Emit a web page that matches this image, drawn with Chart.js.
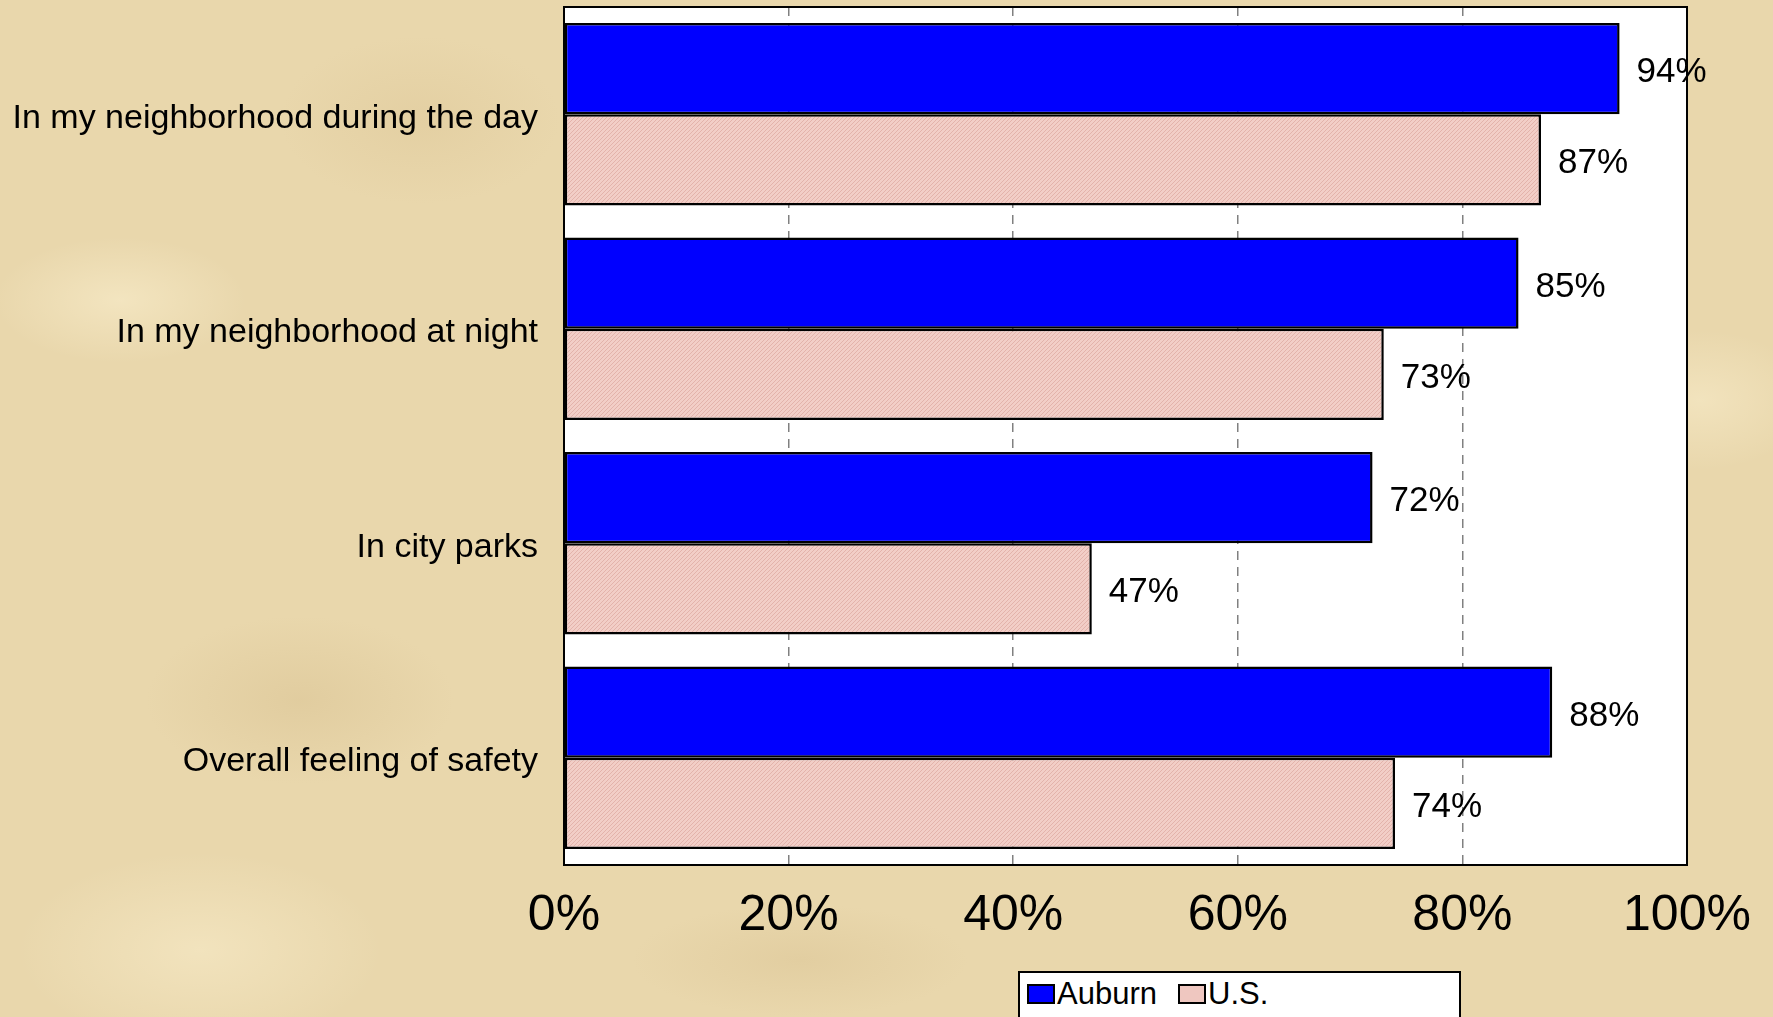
<!DOCTYPE html>
<html>
<head>
<meta charset="utf-8">
<script src="https://cdn.jsdelivr.net/npm/chart.js@4.4.0/dist/chart.umd.min.js"></script>
<style>
  html, body { margin: 0; padding: 0; }
  body {
    width: 1773px; height: 1017px; overflow: hidden; position: relative;
    background-color: #E9D7AC;
    background-image:
      radial-gradient(ellipse 180px 90px at 120px 300px, rgba(255,245,215,0.45), rgba(255,245,215,0) 70%),
      radial-gradient(ellipse 220px 120px at 300px 700px, rgba(210,185,135,0.35), rgba(210,185,135,0) 70%),
      radial-gradient(ellipse 160px 100px at 1700px 400px, rgba(255,245,215,0.4), rgba(255,245,215,0) 70%),
      radial-gradient(ellipse 240px 80px at 800px 960px, rgba(210,185,135,0.3), rgba(210,185,135,0) 70%),
      radial-gradient(ellipse 200px 120px at 420px 120px, rgba(215,190,140,0.3), rgba(215,190,140,0) 70%),
      radial-gradient(ellipse 260px 140px at 200px 950px, rgba(255,245,215,0.4), rgba(255,245,215,0) 70%);
    font-family: "Liberation Sans", Arial, sans-serif;
  }
  #wrap { position: absolute; left: 0; top: 0; width: 1773px; height: 1017px; }
  #legend {
    position: absolute; left: 1018px; top: 971px; width: 443px; height: 60px;
    background: #fff; border: 2px solid #000; box-sizing: border-box;
    font-size: 31px; line-height: 31px; color: #000; white-space: nowrap;
  }
  .item { position: absolute; top: 5px; display: flex; align-items: center; }
  .sw { width: 28px; height: 20px; border: 2px solid #000; box-sizing: border-box; margin-right: 2px; }
</style>
</head>
<body>
<div id="wrap"><canvas id="c" width="1773" height="1017"></canvas></div>
<div id="legend">
  <div class="item" style="left:7px"><span class="sw" style="background:#0000FF"></span><span id="l0"></span></div>
  <div class="item" style="left:158px"><span class="sw" style="background:#EFC7C0"></span><span id="l1"></span></div>
</div>
<script>
const categories = ["In my neighborhood during the day", "In my neighborhood at night", "In city parks", "Overall feeling of safety"];
const seriesNames = ["Auburn", "U.S."];
const auburnValues = [94, 85, 72, 88];
const usValues = [87, 73, 47, 74];
const xTicks = [0, 20, 40, 60, 80, 100];

document.getElementById('l0').textContent = seriesNames[0];
document.getElementById('l1').textContent = seriesNames[1];

function makePattern() {
  const p = document.createElement('canvas');
  p.width = 4; p.height = 4;
  const g = p.getContext('2d');
  g.fillStyle = '#F2CEC7';
  g.fillRect(0, 0, 4, 4);
  g.fillStyle = '#E3B3AB';
  for (let i = 0; i < 4; i++) g.fillRect(i, 3 - i, 1, 1);
  return document.getElementById('c').getContext('2d').createPattern(p, 'repeat');
}

const plotBg = {
  id: 'plotBg',
  beforeDraw(chart) {
    const {ctx, chartArea: a} = chart;
    ctx.save();
    ctx.fillStyle = '#FFFFFF';
    ctx.fillRect(a.left, a.top, a.right - a.left, a.bottom - a.top);
    ctx.restore();
  },
  afterDraw(chart) {
    const {ctx, chartArea: a} = chart;
    ctx.save();
    ctx.strokeStyle = '#000';
    ctx.lineWidth = 2;
    ctx.strokeRect(a.left, a.top, a.right - a.left, a.bottom - a.top);
    ctx.restore();
  }
};

const valueLabels = {
  id: 'valueLabels',
  afterDatasetsDraw(chart) {
    const ctx = chart.ctx;
    ctx.save();
    ctx.font = '35px "Liberation Sans", Arial, sans-serif';
    ctx.fillStyle = '#000';
    ctx.textAlign = 'left';
    ctx.textBaseline = 'middle';
    chart.data.datasets.forEach((ds, di) => {
      chart.getDatasetMeta(di).data.forEach((bar, i) => {
        ctx.fillText(ds.data[i] + '%', bar.x + 17, bar.y + 4);
      });
    });
    ctx.restore();
  }
};

new Chart(document.getElementById('c'), {
  type: 'bar',
  data: {
    labels: categories,
    datasets: [
      { label: seriesNames[0], data: auburnValues, backgroundColor: '#0000FF', borderColor: '#000', borderWidth: 2.5, borderSkipped: false },
      { label: seriesNames[1], data: usValues, backgroundColor: makePattern(), borderColor: '#000', borderWidth: 2.5, borderSkipped: false }
    ]
  },
  options: {
    indexAxis: 'y',
    responsive: false,
    animation: false,
    layout: { padding: { left: 0, right: 86, top: 7, bottom: 0 } },
    datasets: { bar: { categoryPercentage: 0.85, barPercentage: 1.0 } },
    plugins: { legend: { display: false }, tooltip: { enabled: false } },
    scales: {
      x: {
        min: 0, max: 100,
        afterBuildTicks(scale) { scale.ticks = xTicks.map(v => ({ value: v })); },
        afterFit(scale) { scale.height = 152; },
        ticks: {
          callback: v => v + '%',
          font: { size: 50, family: '"Liberation Sans", Arial, sans-serif' },
          color: '#000', padding: 21, maxRotation: 0, autoSkip: false
        },
        grid: { color: '#808080', lineWidth: 1.5, drawTicks: false },
        border: { display: false, dash: [9, 7] }
      },
      y: {
        afterFit(scale) { scale.width = 564; scale.paddingTop = 0; scale.paddingBottom = 0; },
        ticks: {
          font: { size: 34, family: '"Liberation Sans", Arial, sans-serif' },
          color: '#000', padding: 26, labelOffset: 4
        },
        grid: { display: false, drawTicks: false },
        border: { display: false }
      }
    }
  },
  plugins: [plotBg, valueLabels]
});
</script>
</body>
</html>
